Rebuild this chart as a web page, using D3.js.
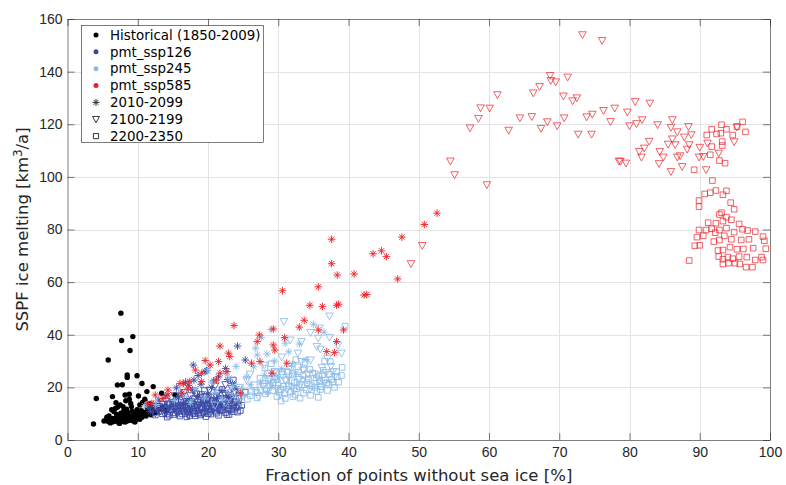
<!DOCTYPE html>
<html>
<head>
<meta charset="utf-8">
<script src="https://cdn.jsdelivr.net/npm/d3@7"></script>
<style>
  body { margin: 0; background: #fff; }
  svg { display: block; font-family: "DejaVu Sans", sans-serif; }
</style>
</head>
<body>
<svg id="chart" width="786" height="485"></svg>
<script>
// ---- axis ticks ----
const xTicks = [0, 10, 20, 30, 40, 50, 60, 70, 80, 90, 100];
const yTicks = [0, 20, 40, 60, 80, 100, 120, 140, 160];

// ---- Historical (1850-2009): [fraction %, melting km3/a] ----
const historical = [
  [3.7,6.1],[4.1,15.8],[5.8,30.4],[7.6,48.2],[7.7,37.8],[9.3,39.3],[8.9,34.0],[8.5,24.7],[8.5,23.8],[9.9,24.4],
  [7.1,20.9],[7.8,21.0],[10.6,21.5],[12.2,20.3],[11.3,18.4],[6.4,16.5],[8.2,17.1],[8.8,17.4],[8.8,15.5],[10.1,16.7],
  [11.0,15.5],[13.4,17.8],[6.9,14.2],[7.5,13.3],[6.8,12.0],[7.9,12.7],[8.4,11.7],[9.1,12.7],[10.3,13.3],[15.3,17.1],
  [5.2,7.2],[5.5,7.6],[5.8,7.0],[6.0,7.9],[6.2,7.4],[6.4,8.2],[6.5,6.9],[6.7,7.7],[6.9,8.4],[7.0,7.1],
  [7.2,7.8],[7.3,6.6],[7.4,8.8],[7.5,7.3],[7.7,8.0],[7.8,9.2],[7.9,7.0],[8.0,7.6],[8.1,8.5],[8.2,6.8],
  [8.3,9.6],[8.4,7.9],[8.5,7.2],[8.6,10.4],[8.7,8.3],[8.8,7.5],[8.9,9.0],[9.0,7.8],[9.1,8.6],[9.2,10.9],
  [9.3,7.3],[9.4,9.3],[9.5,8.1],[9.6,10.1],[9.7,7.6],[9.8,8.8],[9.9,11.5],[10.0,9.5],[10.1,8.2],[10.2,10.6],
  [10.3,7.9],[10.4,9.0],[10.5,11.2],[10.6,8.6],[10.8,9.8],[11.0,10.5],[11.2,9.1],[11.4,11.8],[11.6,10.2],[11.9,9.6],
  [12.2,11.0],[12.6,10.4],[13.0,11.6],[13.5,12.3],[14.0,11.2],[6.6,10.8],[7.6,10.2],[8.0,11.0],[5.9,9.1],[6.3,11.5],
  [7.1,12.4],[9.0,13.9],[8.3,14.9],[10.7,14.3],[9.6,6.8],[6.1,6.5],[7.4,6.3],[12.0,12.9],[11.7,13.8],[7.0,9.7],[5.6,8.7]
];

// ---- pmt_ssp126 ----
const ssp126Stars = [
  [24.2,35.7],[17.9,28.5],[25.3,30.4],[19.6,26.0],[19.8,26.4],[18.6,24.5],[16.8,22.0],[21.5,24.0],[22.8,23.0],[15.5,19.8],
  [14.0,16.8],[13.0,15.2],[12.2,13.6],[11.5,12.4],[16.2,17.5],[17.8,19.0],[19.0,21.2],[20.5,20.0],[23.5,21.5],[15.0,14.0],
  [17.0,15.2],[18.5,16.8],[13.8,13.0],[20.0,17.5],[22.0,18.8],[12.8,11.5],[16.5,13.5],[21.2,15.8],[14.6,12.2],[19.2,14.3],
  [24.0,19.5],[18.0,22.8],[22.5,27.2],[17.2,20.8],[15.8,16.2],[11.8,10.8],[20.8,22.5],[23.0,16.5]
];
const ssp126Tris = [
  [12.5,10.2],[13.2,11.0],[13.8,9.8],[14.3,12.1],[14.8,10.6],[15.2,11.8],[15.6,9.9],[15.9,13.2],[16.3,11.1],[16.7,12.5],
  [17.0,10.4],[17.3,14.0],[17.6,11.7],[17.9,13.1],[18.2,10.8],[18.5,12.4],[18.8,15.0],[19.1,11.5],[19.4,13.6],[19.7,10.9],
  [20.0,12.8],[20.3,14.4],[20.6,11.9],[20.9,16.2],[21.2,13.0],[21.5,11.2],[21.8,14.8],[22.1,12.3],[22.4,17.5],[22.8,13.7],
  [23.2,15.6],[23.6,12.0],[24.0,14.1],[16.0,15.5],[17.5,16.8],[19.0,17.2],[15.0,14.3],[13.6,13.5],[18.0,18.6],[20.2,18.9],
  [21.0,20.5],[22.5,21.0],[17.2,9.6],[19.3,9.8],[15.3,16.8],[24.5,16.8],[23.8,18.2],[14.0,14.8],[16.6,18.0],[12.0,11.6],
  [13.0,12.6],[14.0,10.4],[14.6,13.3],[15.5,10.8],[16.1,12.0],[16.9,14.6],[17.4,11.0],[18.0,15.6],[18.7,13.2],[19.6,16.2],
  [20.4,10.4],[21.4,17.8],[22.3,15.8],[23.0,11.0],[24.2,13.0],[19.9,14.9],[17.8,9.9],[15.8,12.4],[21.6,12.6],[23.4,19.6]
];
const ssp126Squares = [
  [13.5,10.0],[14.0,11.3],[14.5,9.4],[14.9,12.6],[15.3,10.3],[15.7,11.6],[16.0,9.1],[16.4,12.9],[16.8,10.1],[17.1,11.4],
  [17.4,9.3],[17.7,12.2],[18.0,10.0],[18.3,13.6],[18.6,11.2],[18.9,9.5],[19.2,12.6],[19.5,10.5],[19.8,14.0],[20.1,11.6],
  [20.4,9.8],[20.7,13.0],[21.0,10.9],[21.3,12.0],[21.6,14.5],[21.9,11.1],[22.2,13.3],[22.5,10.4],[22.8,12.2],[23.1,14.9],
  [23.4,11.6],[23.7,13.5],[24.0,12.2],[24.4,15.8],[24.8,13.2],[21.7,12.0],[22.9,17.1],[23.6,22.8],[20.0,15.6],[19.0,16.3],
  [17.6,14.8],[16.2,14.2],[15.0,13.6],[18.4,17.6],[21.2,16.8],[25.3,18.2],[22.0,19.2],[17.0,8.8],[19.7,8.9],[14.2,8.7],
  [16.6,11.0],[18.1,12.8],[20.5,11.4],[23.0,9.7],[24.2,10.6],[13.0,12.0],[12.5,9.5],[22.6,15.6],[19.5,18.8],[21.5,9.4],
  [13.8,12.4],[14.2,10.1],[14.7,11.5],[15.1,9.7],[15.5,12.9],[15.9,10.8],[16.3,9.9],[16.7,13.4],[17.0,11.9],[17.3,10.6],
  [17.6,13.8],[17.9,11.0],[18.2,9.2],[18.5,14.5],[18.8,12.0],[19.1,10.2],[19.4,15.2],[19.7,12.3],[20.0,10.0],[20.3,13.8],
  [20.6,15.0],[20.9,12.4],[21.2,10.2],[21.5,13.6],[21.8,15.6],[22.1,11.6],[22.4,14.0],[22.7,9.6],[23.0,13.0],[23.3,16.3],
  [23.6,10.8],[23.9,14.6],[24.3,12.8],[24.6,11.2],[16.0,13.0],[17.2,12.8],[18.6,10.2],[19.9,13.1],[21.1,14.1],[15.4,14.8],
  [14.4,13.8],[13.2,10.9],[12.8,12.8]
];

// ---- pmt_ssp245 ----
const ssp245Stars = [
  [27.6,39.0],[26.8,34.9],[28.4,32.7],[27.0,32.3],[24.0,28.0],[22.5,25.5],[20.5,22.0],[18.2,19.5],[16.5,17.2],[15.2,15.0],
  [25.5,24.0],[26.5,27.8],[29.5,30.0],[30.5,27.0],[28.0,24.5],[23.5,20.5],[21.0,18.0],[19.5,16.0],[31.5,33.5],[33.0,36.5],
  [32.0,29.0],[26.0,21.0],[24.8,19.5],[27.5,22.0],[29.0,20.0],[30.0,23.5],[35.0,44.0],[36.5,41.0],[17.5,14.3],[22.0,15.5],
  [25.0,17.0],[28.5,18.0],[23.0,23.5],[20.0,26.5],[32.5,25.5],[34.0,30.5],[31.0,36.8],[29.0,42.0],[11.0,13.0],[12.5,13.5]
];
const ssp245Tris = [
  [30.8,45.0],[37.3,47.1],[34.6,40.8],[35.9,42.5],[37.3,39.0],[33.3,37.4],[31.7,38.0],[35.7,38.7],[34.6,30.4],[33.3,29.8],
  [25.5,22.8],[34.1,22.8],[33.1,20.9],[28.0,28.5],[29.5,26.0],[30.5,31.5],[31.8,26.8],[32.8,33.0],[36.0,34.5],[37.0,31.0],
  [38.5,36.0],[36.2,27.5],[35.2,25.0],[31.0,22.5],[29.8,19.5],[27.8,20.3],[26.8,18.2],[24.0,16.0],[22.5,14.0],[21.0,13.2],
  [30.2,17.0],[32.2,18.6],[34.5,19.2],[36.5,21.5],[38.0,24.0],[28.8,23.0],[26.0,25.0],[24.5,20.0],[31.5,24.0],[33.5,26.5],
  [37.5,28.0],[35.5,35.5],[39.0,33.0],[27.2,16.5],[23.2,18.0],[29.0,21.5],[30.5,24.8],[32.0,20.0],[33.0,23.0],[34.2,25.0],
  [35.8,22.8],[36.8,25.6],[37.8,26.0],[28.3,18.5],[31.2,19.2]
];
const ssp245Squares = [
  [39.1,27.6],[37.4,29.8],[37.2,21.2],[35.9,22.2],[35.2,20.0],[31.0,15.8],[29.8,16.5],[26.2,18.4],[32.1,16.5],[33.6,17.8],
  [28.8,20.9],[28.1,27.3],[39.5,43.3],[27.0,16.0],[27.5,19.0],[28.2,17.5],[28.6,22.5],[29.2,18.8],[29.5,24.0],[30.0,21.0],
  [30.3,19.2],[30.6,26.0],[30.9,17.6],[31.2,23.0],[31.5,20.5],[31.8,18.2],[32.0,25.3],[32.3,21.8],[32.6,19.5],[32.9,23.8],
  [33.1,15.9],[33.4,21.0],[33.7,27.0],[34.0,19.0],[34.3,23.2],[34.6,17.0],[34.9,25.5],[35.2,21.5],[35.5,18.5],[35.8,24.3],
  [36.1,20.3],[36.4,26.5],[36.7,22.8],[37.0,18.8],[37.3,25.0],[37.6,23.0],[38.0,20.0],[38.3,26.0],[38.6,22.0],[39.0,24.5],
  [29.0,29.0],[31.5,28.0],[33.8,29.5],[27.4,23.5],[26.6,21.0],[25.6,15.5],[24.8,14.5],[30.4,14.8],[35.7,16.2],[29.7,25.6],
  [32.5,30.5],[36.6,30.0],[28.0,21.5],[28.5,25.5],[29.3,21.8],[29.8,23.0],[30.7,20.4],[31.3,25.8],[31.9,22.6],[32.4,17.3],
  [33.0,20.2],[33.5,24.5],[34.1,21.8],[34.8,20.6],[35.4,23.6],[36.0,19.2],[36.3,24.8],[36.9,21.8],[37.8,22.0],[38.4,24.0],
  [30.1,18.2],[32.8,27.8],[34.5,26.8],[27.0,18.0],[26.0,16.8]
];

// ---- pmt_ssp585 ----
const ssp585Stars = [
  [37.6,76.3],[37.6,67.0],[38.4,62.7],[40.8,63.1],[30.6,56.7],[35.7,58.2],[34.5,51.2],[36.3,50.7],[38.3,51.2],[38.6,51.6],
  [33.7,45.5],[33.0,42.9],[29.3,42.2],[23.7,43.5],[35.7,41.8],[39.3,41.8],[27.3,39.9],[30.9,38.9],[52.6,86.2],[50.8,81.9],
  [47.6,77.1],[44.7,71.9],[43.5,70.8],[45.4,69.7],[47.0,61.2],[42.2,55.1],[42.6,55.3],[21.7,35.7],[27.0,37.4],[29.3,36.1],
  [29.5,34.2],[19.6,30.2],[21.5,29.8],[22.9,33.0],[23.1,31.7],[27.4,29.8],[26.2,29.2],[31.2,29.2],[38.0,33.2],[36.9,33.6],
  [38.3,37.4],[18.2,26.6],[20.3,28.5],[19.1,25.4],[21.7,25.4],[22.7,26.0],[16.5,21.5],[17.4,22.2],[17.2,19.7],[16.3,17.8],
  [14.3,17.1],[13.6,15.8],[12.0,13.9],[24.6,17.8],[29.1,25.4],[21.2,22.8],[14.3,19.0],[12.5,17.1],[11.4,13.9],[16.0,21.5],
  [19.1,22.2]
];
const ssp585Tris = [
  [73.3,154.0],[76.1,151.8],[68.7,138.5],[71.2,137.9],[68.8,136.6],[69.5,136.1],[67.2,134.3],[66.3,131.9],[61.2,131.2],[70.6,130.7],
  [72.5,130.0],[71.9,128.9],[58.8,126.2],[60.1,126.1],[76.3,125.2],[77.9,126.1],[58.5,122.2],[64.4,122.4],[66.1,122.9],[70.7,122.4],
  [73.9,122.8],[74.7,123.8],[68.3,120.9],[77.3,121.0],[57.3,118.6],[62.8,117.7],[67.4,118.4],[69.7,119.4],[72.7,116.2],[74.6,116.2],
  [54.5,106.0],[55.1,100.8],[59.7,97.0],[78.5,106.0],[48.9,67.0],[50.5,73.9],
  [79.7,124.6],[80.0,119.4],[81.0,120.2],[81.8,121.7],[80.8,128.6],[82.9,128.0],[84.0,119.8],[86.1,121.7],[85.9,118.8],[86.8,117.1],
  [88.4,119.1],[87.8,115.1],[88.8,116.0],[82.8,113.5],[86.1,114.4],[85.5,112.4],[86.5,112.2],[82.1,110.9],[81.4,109.6],[84.3,109.6],
  [81.7,107.5],[84.8,107.5],[88.5,112.2],[88.2,110.5],[90.0,111.2],[87.2,108.0],[86.8,107.5],[91.1,112.8],[92.7,109.0],[89.9,107.5],
  [90.5,107.7],[78.7,105.9],[79.5,105.2],[84.2,105.0],[85.9,102.0],[87.5,103.9],[90.9,102.7],[94.9,113.3],[95.3,118.9]
];
const ssp585Squares = [
  [93.1,119.8],[96.1,120.9],[96.5,117.1],[93.8,118.1],[95.3,119.1],[91.7,118.1],[91.0,115.9],[92.4,116.3],[93.0,116.6],[94.7,115.9],
  [93.2,113.4],[93.2,111.9],[91.7,111.5],[91.5,108.4],[92.8,106.2],[93.6,105.2],[89.2,102.7],[91.8,98.6],[92.3,94.8],[93.8,94.7],
  [90.7,93.5],[91.5,94.0],[93.3,93.2],[89.9,91.0],[89.9,88.7],[94.4,90.2],[94.9,87.7],
  [93.1,86.4],[92.8,85.7],[93.8,84.7],[94.5,83.7],[93.3,83.2],[95.6,82.1],[91.2,82.6],[92.3,82.4],[89.9,79.8],
  [90.9,79.8],[91.7,80.3],[92.2,78.8],[92.8,79.8],[93.8,80.5],[94.9,79.0],[96.1,80.1],[96.8,79.6],[97.9,79.2],[89.6,77.1],
  [90.5,77.6],[92.0,75.4],[92.8,76.0],[93.5,77.6],[94.5,76.3],[95.9,76.0],[97.0,76.3],[99.0,77.3],[99.2,75.7],[89.3,73.8],
  [90.0,74.0],[92.6,72.0],[93.3,72.2],[94.3,73.3],[95.3,72.5],[96.2,72.6],[97.6,72.9],[99.4,72.7],[92.7,69.7],[93.3,68.7],
  [94.0,69.5],[94.7,68.9],[95.6,69.7],[96.7,69.5],[97.9,68.4],[98.8,69.5],[99.0,68.4],[94.1,67.2],[95.0,67.2],[95.7,66.9],
  [96.6,65.7],[97.5,65.7],[88.5,68.2],[93.3,66.9]
];

// ---- legend entries ----
const legendLabels = ["Historical (1850-2009)", "pmt_ssp126", "pmt_ssp245", "pmt_ssp585", "2010-2099", "2100-2199", "2200-2350"];

// ---- styling ----
const colHist = "#000000";
const col126 = "#3a49a6";
const col245 = "#8bbbe8";
const col585 = "#ee2026";
const axisCol = "#262626";

// marker shapes (centered at origin)
const starPath = s => `M${-s},0H${s}M0,${-s}V${s}M${-s*0.7},${-s*0.7}L${s*0.7},${s*0.7}M${-s*0.7},${s*0.7}L${s*0.7},${-s*0.7}`;
const triPath = s => `M${-s},${-s*0.8}L${s},${-s*0.8}L0,${s}Z`;
const sqPath = s => `M${-s},${-s}H${s}V${s}H${-s}Z`;

const svg = d3.select("#chart");
const x = d3.scaleLinear().domain([0, 100]).range([67.5, 770]);
const y = d3.scaleLinear().domain([0, 160]).range([440, 19]);
const [x0, x1] = x.range();
const [y0, y1] = y.range();

// grid
const grid = svg.append("g").attr("stroke", "#e3e3e3").attr("stroke-width", 1);
grid.selectAll(".gx").data(xTicks.slice(1, -1)).join("line")
  .attr("x1", d => Math.round(x(d)) + 0.5).attr("x2", d => Math.round(x(d)) + 0.5)
  .attr("y1", y1).attr("y2", y0);
grid.selectAll(".gy").data(yTicks.slice(1, -1)).join("line")
  .attr("y1", d => Math.round(y(d)) + 0.5).attr("y2", d => Math.round(y(d)) + 0.5)
  .attr("x1", x0).attr("x2", x1);

// data layers
const plot = svg.append("g");
function drawSet(data, pathFn, size, color, opacity) {
  plot.append("g").selectAll("path").data(data).join("path")
    .attr("transform", d => `translate(${x(d[0])},${y(d[1])})`)
    .attr("d", pathFn(size))
    .attr("fill", "none").attr("stroke", color)
    .attr("stroke-width", 1).attr("stroke-opacity", opacity);
}

plot.append("g").selectAll("circle").data(historical).join("circle")
  .attr("cx", d => x(d[0])).attr("cy", d => y(d[1])).attr("r", 2.7).attr("fill", colHist);

drawSet(ssp126Squares, sqPath, 2.8, col126, 0.85);
drawSet(ssp126Tris, triPath, 3.8, col126, 0.85);
drawSet(ssp126Stars, starPath, 3.8, col126, 0.9);
drawSet(ssp245Squares, sqPath, 2.8, col245, 0.85);
drawSet(ssp245Tris, triPath, 3.8, col245, 0.85);
drawSet(ssp245Stars, starPath, 3.8, col245, 0.9);
drawSet(ssp585Squares, sqPath, 2.8, col585, 0.7);
drawSet(ssp585Tris, triPath, 3.8, col585, 0.7);
drawSet(ssp585Stars, starPath, 3.8, col585, 0.9);

// axes (ticks pointing inward, MATLAB-like box)
const fmt = d3.format("d");
const ax = svg.append("g").attr("font-family", "DejaVu Sans, sans-serif");
const axBottom = ax.append("g").attr("transform", `translate(0,${y0})`)
  .call(d3.axisBottom(x).tickValues(xTicks).tickFormat(fmt).tickSizeInner(-7).tickSizeOuter(0).tickPadding(7));
const axLeft = ax.append("g").attr("transform", `translate(${x0},0)`)
  .call(d3.axisLeft(y).tickValues(yTicks).tickFormat(fmt).tickSizeInner(-7).tickSizeOuter(0).tickPadding(5));
const axTop = ax.append("g").attr("transform", `translate(0,${y1})`)
  .call(d3.axisTop(x).tickValues(xTicks).tickFormat("").tickSizeInner(-7).tickSizeOuter(0));
const axRight = ax.append("g").attr("transform", `translate(${x1},0)`)
  .call(d3.axisRight(y).tickValues(yTicks).tickFormat("").tickSizeInner(-7).tickSizeOuter(0));
[axBottom, axLeft, axTop, axRight].forEach(g => {
  g.select(".domain").attr("stroke", axisCol).attr("stroke-width", 0.6);
  g.selectAll(".tick line").attr("stroke", axisCol).attr("stroke-width", 0.6);
  g.selectAll("text").attr("fill", axisCol).attr("font-size", 14);
});

// axis labels
svg.append("text").attr("x", (x0 + x1) / 2).attr("y", 481).attr("text-anchor", "middle")
  .attr("font-size", 16.5).attr("fill", axisCol).text("Fraction of points without sea ice [%]");
const yl = svg.append("text").attr("transform", `translate(28,${(y0 + y1) / 2}) rotate(-90)`)
  .attr("text-anchor", "middle").attr("font-size", 16.5).attr("fill", axisCol);
yl.append("tspan").text("SSPF ice melting [km");
yl.append("tspan").attr("font-size", 11.5).attr("dy", -6).text("3");
yl.append("tspan").attr("dy", 6).text("/a]");

// legend
const lg = svg.append("g");
lg.append("rect").attr("x", 81.5).attr("y", 25.5).attr("width", 182).attr("height", 117)
  .attr("fill", "#fff").attr("stroke", axisCol).attr("stroke-width", 0.6);
const ly = i => 35 + i * 16.85;
const lx = 96;
const legendSym = [
  g => g.append("circle").attr("r", 2.5).attr("fill", colHist),
  g => g.append("circle").attr("r", 2.5).attr("fill", col126),
  g => g.append("circle").attr("r", 2.5).attr("fill", col245),
  g => g.append("circle").attr("r", 2.5).attr("fill", col585),
  g => g.append("path").attr("d", starPath(3.5)).attr("stroke", "#333").attr("fill", "none"),
  g => g.append("path").attr("d", triPath(3.5)).attr("stroke", "#333").attr("fill", "none"),
  g => g.append("path").attr("d", sqPath(2.6)).attr("stroke", "#333").attr("fill", "none")
];
legendLabels.forEach((label, i) => {
  const g = lg.append("g").attr("transform", `translate(${lx},${ly(i)})`);
  legendSym[i](g);
  lg.append("text").attr("x", 110).attr("y", ly(i)).attr("dy", "0.35em")
    .attr("font-size", 13.4).attr("fill", "#000").text(label);
});
</script>
</body>
</html>
